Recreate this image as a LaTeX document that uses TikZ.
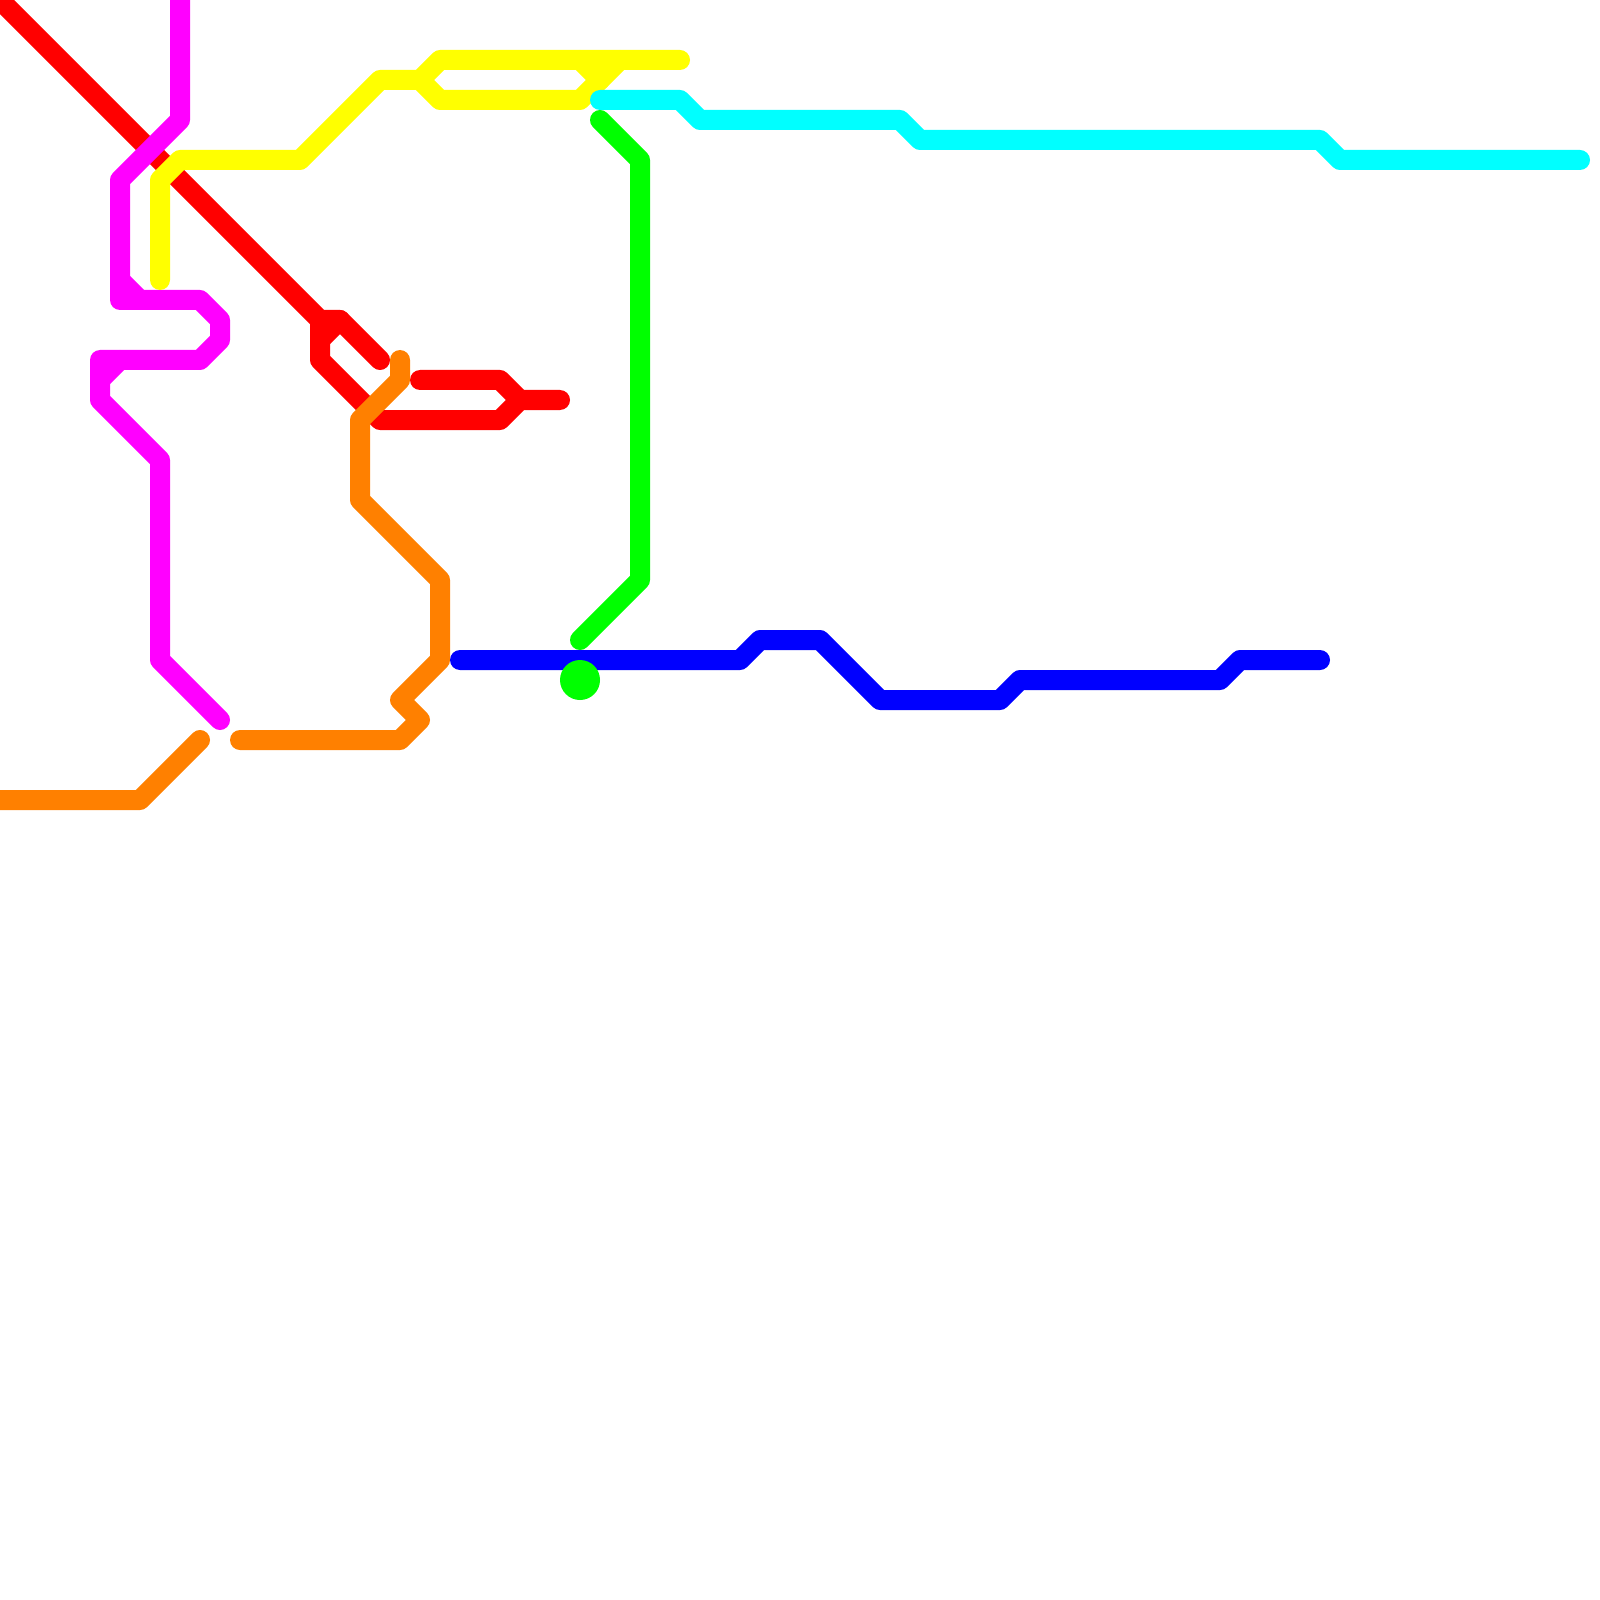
\documentclass[tikz,border=0pt]{standalone}
\usepackage{xcolor}
\usepackage{tikz}
\definecolor{linered}{RGB}{255,0,0}
\definecolor{lineorange}{RGB}{255,128,0}
\definecolor{linemagenta}{RGB}{255,0,255}
\definecolor{lineyellow}{RGB}{255,255,0}
\definecolor{lineblue}{RGB}{0,0,255}
\definecolor{linecyan}{RGB}{0,255,255}
\definecolor{linegreen}{RGB}{0,255,0}
\tikzset{route/.style={line width=2mm,line cap=round,line join=round}}

\begin{document}
\begin{tikzpicture}[x=2mm,y=-2mm]
\useasboundingbox (0,0) rectangle (80,80);

% Red line
\draw[route,linered] (0,0) -- (16,16) -- (17,16) -- (19,18);
\draw[route,linered] (17,16) -- (16,17);
\draw[route,linered] (16,16) -- (16,18) -- (19,21) -- (25,21) -- (26,20) -- (28,20);
\draw[route,linered] (21,19) -- (25,19) -- (26,20);

% Orange line
\draw[route,lineorange] (0,40) -- (7,40) -- (10,37);
\draw[route,lineorange] (12,37) -- (20,37) -- (21,36) -- (20,35) -- (22,33) -- (22,29) -- (18,25) -- (18,21) -- (20,19) -- (20,18);

% Magenta line
\draw[route,linemagenta] (9,0) -- (9,6) -- (6,9) -- (6,15) -- (10,15) -- (11,16) -- (11,17) -- (10,18) -- (5,18) -- (5,20) -- (8,23) -- (8,33) -- (11,36);
\draw[route,linemagenta] (6,14) -- (7,15);
\draw[route,linemagenta] (5,19) -- (6,18);

% Yellow line
\draw[route,lineyellow] (8,14) -- (8,9) -- (9,8) -- (15,8) -- (19,4) -- (21,4) -- (22,3) -- (34,3);
\draw[route,lineyellow] (21,4) -- (22,5) -- (29,5) -- (31,3);
\draw[route,lineyellow] (29,3) -- (30,4);

% Blue line
\draw[route,lineblue] (23,33) -- (37,33) -- (38,32) -- (41,32) -- (44,35) -- (50,35) -- (51,34) -- (61,34) -- (62,33) -- (66,33);

% Cyan line
\draw[route,linecyan] (30,5) -- (34,5) -- (35,6) -- (45,6) -- (46,7) -- (66,7) -- (67,8) -- (79,8);

% Green line
\draw[route,linegreen] (30,6) -- (32,8) -- (32,29) -- (29,32);
\fill[linegreen] (29,34) circle (1);
\end{tikzpicture}
\end{document}
